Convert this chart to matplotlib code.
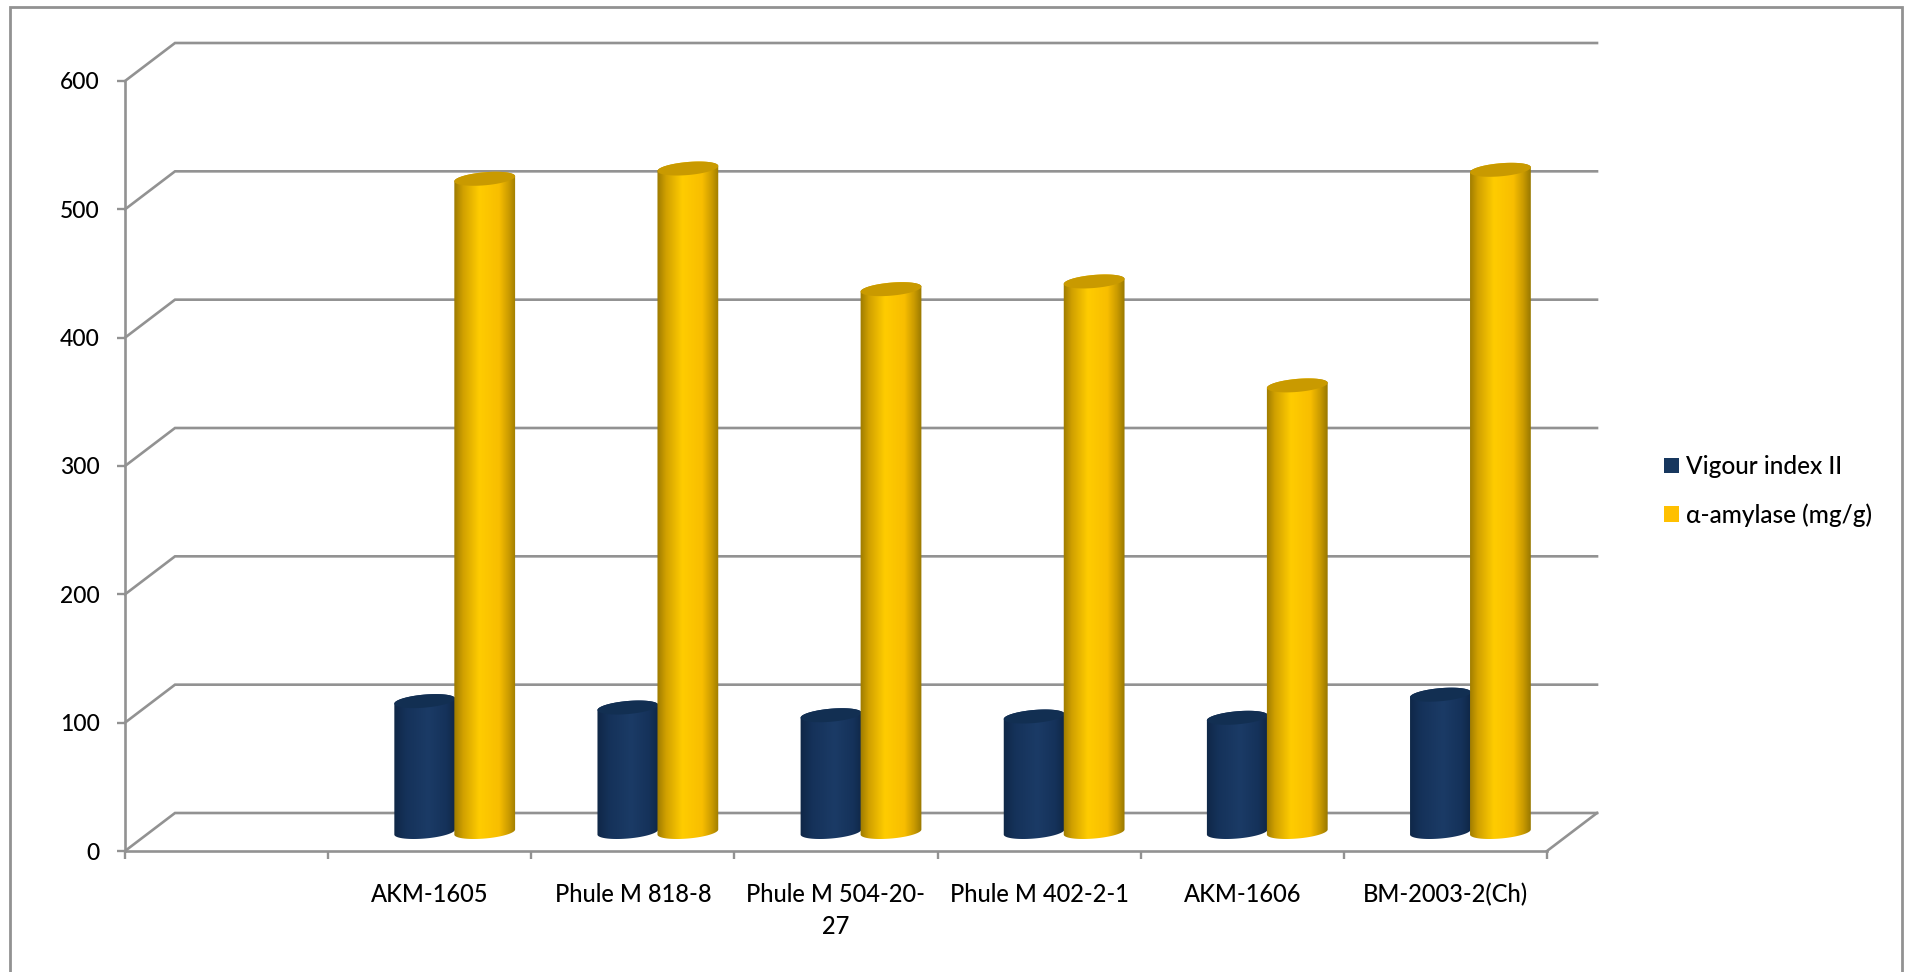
import numpy as np
import matplotlib
matplotlib.use("Agg")
import matplotlib.pyplot as plt
from matplotlib.colors import LinearSegmentedColormap
from matplotlib.patches import Patch, Polygon, Rectangle

categorie = ["AKM-1605", "Phule M 818-8", "Phule M 504-20-\n27",
             "Phule M 402-2-1", "AKM-1606", "BM-2003-2(Ch)"]
vigour = [102, 97, 91, 90, 89, 107]
amilasi = [509, 517, 423, 429, 348, 516]
valori_y = [0, 100, 200, 300, 400, 500, 600]

plt.rcParams["font.family"] = ["Lato", "DejaVu Sans"]
plt.rcParams["font.weight"] = "medium"

LARGHEZZA, ALTEZZA = 1909, 972
GRIGIO = "#929292"
TESTO = "#000000"

# area del piano frontale, in pixel
X0, X1 = 125, 1547
Y0, Y1 = 851, 81
PX_X = (X1 - X0) / 7
PX_Y = (Y0 - Y1) / 600
# profondita' del grafico
DX = 50 / PX_X
DY = 38 / PX_Y

fig = plt.figure(figsize=(LARGHEZZA / 100, ALTEZZA / 100), dpi=100)
ax = fig.add_axes([X0 / LARGHEZZA, 1 - Y0 / ALTEZZA,
                   (X1 - X0) / LARGHEZZA, (Y0 - Y1) / ALTEZZA])
ax.patch.set_alpha(0)

# cornice esterna, il lato inferiore resta fuori dalla figura
fig.add_artist(Rectangle((10 / LARGHEZZA, -0.02), (1902 - 10) / LARGHEZZA,
                         1.02 - 7 / ALTEZZA, transform=fig.transFigure,
                         fill=False, edgecolor=GRIGIO, linewidth=2.0))

# griglia sul fondo e sulla parete sinistra
for v in valori_y:
    ax.plot([0, DX, 7 + DX], [v, v + DY, v + DY], color=GRIGIO, linewidth=1.9,
            clip_on=False, zorder=1, solid_joinstyle="miter")
ax.plot([7, 7 + DX], [0, DY], color=GRIGIO, linewidth=1.9, clip_on=False, zorder=1)


# contorno di un'ellisse inclinata, in coordinate dati
def ellisse(cx, cy, t):
    a, b = 30.5, 6.5
    tilt = np.radians(5)
    px = a * np.cos(t) * np.cos(tilt) - b * np.sin(t) * np.sin(tilt)
    py = a * np.cos(t) * np.sin(tilt) + b * np.sin(t) * np.cos(tilt)
    return np.column_stack([cx + px / PX_X, cy + py / PX_Y])


def cilindro(x, valore, mappa, colore_top, z):
    base = DY / 2
    cima = base + valore
    sotto = ellisse(x, base, np.linspace(np.pi, 2 * np.pi, 60))
    sopra = ellisse(x, cima, np.linspace(0, np.pi, 60))
    corpo = Polygon(np.vstack([sotto, sopra]), closed=True, transform=ax.transData,
                    facecolor="none", edgecolor="none")
    ax.add_patch(corpo)
    # sfumatura orizzontale del corpo
    sfumatura = np.linspace(0, 1, 128).reshape(1, -1)
    meta = 31 / PX_X
    img = ax.imshow(sfumatura, cmap=mappa, aspect="auto", zorder=z,
                    extent=[x - meta, x + meta, 0, 600], interpolation="bilinear")
    img.set_clip_path(corpo)
    ax.add_patch(Polygon(ellisse(x, cima, np.linspace(0, 2 * np.pi, 120)), closed=True,
                         facecolor=colore_top, edgecolor="none", zorder=z + 0.1))


mappa_blu = LinearSegmentedColormap.from_list(
    "blu", [(0, "#0f2747"), (0.2, "#15325a"), (0.55, "#1b3b66"), (0.85, "#15325a"), (1, "#0f2747")])
mappa_gialla = LinearSegmentedColormap.from_list(
    "gialla", [(0, "#9c7a00"), (0.14, "#d0a000"), (0.4, "#ffcc00"), (0.72, "#f8be00"),
               (0.88, "#c99a00"), (1, "#987800")])

larghezza_barra = 60 / PX_X
for i in range(len(categorie)):
    centro = i + 1.5 + DX / 2
    cilindro(centro - larghezza_barra / 2, vigour[i], mappa_blu, "#122f52", 3)
    cilindro(centro + larghezza_barra / 2, amilasi[i], mappa_gialla, "#c99a00", 4)

ax.set_xlim(0, 7)
ax.set_ylim(0, 600)

# assi
for lato in ["top", "right"]:
    ax.spines[lato].set_visible(False)
for lato in ["left", "bottom"]:
    ax.spines[lato].set_color(GRIGIO)
    ax.spines[lato].set_linewidth(1.9)
ax.set_yticks(valori_y)
ax.tick_params(axis="y", length=5.5, width=1.7, color=GRIGIO, pad=12.5,
               labelsize=16.5, labelcolor=TESTO)
ax.set_xticks(range(8))
ax.set_xticklabels([])
ax.tick_params(axis="x", which="major", length=5.5, width=1.7, color=GRIGIO)
ax.set_xticks([i + 1.5 for i in range(len(categorie))], categorie, minor=True)
ax.tick_params(axis="x", which="minor", length=0, pad=23, labelsize=17, labelcolor=TESTO)
for etichetta in ax.get_xticklabels(minor=True):
    etichetta.set_linespacing(1.5)

# legenda
maniglie = [Patch(facecolor="#17375e", label="Vigour index II"),
            Patch(facecolor="#ffc000", label="α-amylase (mg/g)")]
leg = fig.legend(handles=maniglie, loc="center left", frameon=False,
                 bbox_to_anchor=(1664 / LARGHEZZA, 1 - 491 / ALTEZZA),
                 fontsize=17.6, handlelength=0.62, handleheight=0.62, handletextpad=0.3,
                 labelspacing=1.03, borderpad=0, borderaxespad=0)
for testo in leg.get_texts():
    testo.set_color(TESTO)

fig.savefig("out.png", dpi=100, facecolor="white")
